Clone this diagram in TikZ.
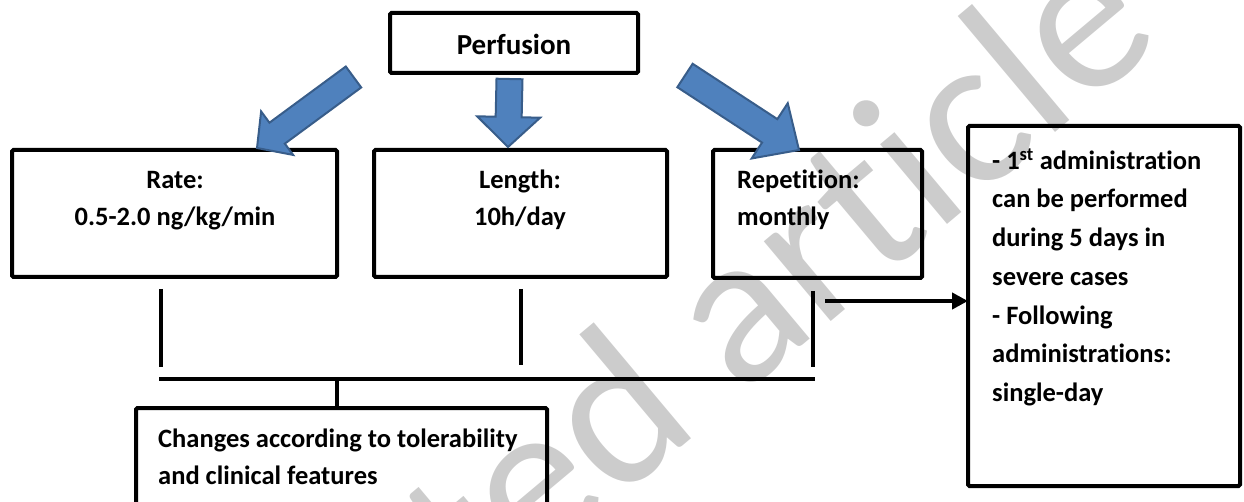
\documentclass[tikz,border=0pt]{standalone}
\usepackage{fontspec}
\setmainfont{Carlito}[Ligatures=NoCommon]
\usetikzlibrary{calc,arrows.meta}
\definecolor{arrfill}{RGB}{79,129,189}
\definecolor{arrdraw}{RGB}{56,93,138}
\definecolor{wm}{RGB}{204,204,204}
\newcommand\firstline{\rule{0pt}{22pt}}
\newcommand\fatarrow[6]{%
  \coordinate (#1h) at ($(#3)!#6!(#2)$);
  \draw[fat] ($(#2)!#4!90:(#3)$) -- ($(#1h)!#4!90:(#3)$) -- ($(#1h)!#5!90:(#3)$) -- (#3)
    -- ($(#1h)!#5!-90:(#3)$) -- ($(#1h)!#4!-90:(#3)$) -- ($(#2)!#4!-90:(#3)$) -- cycle;
}
\begin{document}
\begin{tikzpicture}[x=1pt,y=-1pt,
  box/.style={draw=black, line width=4pt, rounded corners=1.5pt, outer sep=0pt, inner sep=0pt, anchor=north west},
  txt/.style={font=\bfseries\fontsize{26.5}{37}\selectfont, inner sep=0pt},
  conn/.style={line width=4pt},
  fat/.style={fill=arrfill, draw=arrdraw, line width=2pt, line join=miter},
]
\useasboundingbox (0,0) rectangle (1244,502);
\clip (0,0) rectangle (1244,502);
% watermark
\node[font=\fontsize{218}{218}\selectfont, text=wm, rotate=40, anchor=base west, inner sep=0pt] (wmark) at (70,960) {Accepted article};
% boxes
\node[box, minimum width=248pt, minimum height=60pt] (perf) at (390,13) {};
\node[box, minimum width=325pt, minimum height=127pt] (rate) at (12,150) {};
\node[box, minimum width=293pt, minimum height=127pt] (length) at (374,150) {};
\node[box, minimum width=209pt, minimum height=128pt] (rep) at (713,150) {};
\node[box, minimum width=272pt, minimum height=360pt] (rightbox) at (968,126) {};
\node[box, minimum width=411pt, minimum height=130pt] (changes) at (136,408) {};
% texts
\node[txt, font=\bfseries\fontsize{29}{35}\selectfont, anchor=base] (perft) at (514,55) {Perfusion};
\node[txt, align=center, anchor=north] (ratet) at (175,166) {\firstline Rate:\\0.5-2.0 ng/kg/min};
\node[txt, align=center, anchor=north] (lengtht) at (520,166) {\firstline Length:\\10h/day};
\node[txt, align=left, anchor=north west] (rept) at (737,166) {\firstline Repetition:\\monthly};
\node[txt, font=\bfseries\fontsize{26.5}{38.7}\selectfont, align=left, anchor=north west] (rightt) at (992,147)
  {\firstline - 1\textsuperscript{st} administration\\can be performed\\during 5 days in\\severe cases\\- Following\\administrations:\\single-day};
\node[txt, align=left, anchor=north west] (changest) at (158,425) {\firstline Changes according to tolerability\\and clinical features};
% connectors
\coordinate (l1t) at (161,289); \coordinate (l1b) at (161,367);
\coordinate (l2t) at (521,289); \coordinate (l2b) at (521,365);
\coordinate (l3t) at (813,291); \coordinate (l3b) at (813,367);
\coordinate (barL) at (159,379); \coordinate (barR) at (815,379);
\coordinate (stem) at (337,379);
\coordinate (arrS) at (825,301);
\draw[conn] (l1t) -- (l1b);
\draw[conn] (l2t) -- (l2b);
\draw[conn] (l3t) -- (l3b);
\draw[conn] (barL) -- (barR);
\draw[conn] (stem) -- (stem |- changes.north);
\draw[conn, -{Triangle[length=16pt,width=16pt]}] (arrS) -- (arrS -| rightbox.west);
% blue block arrows
\coordinate (a1t) at (353.5,77); \coordinate (a1p) at (257,148);
\coordinate (a2t) at (509.5,79); \coordinate (a2p) at (508,147);
\coordinate (a3t) at (685,75.5); \coordinate (a3p) at (799,150);
\fatarrow{a1}{a1t}{a1p}{13pt}{27pt}{25pt}
\fatarrow{a2}{a2t}{a2p}{13pt}{31.5pt}{30pt}
\fatarrow{a3}{a3t}{a3p}{14pt}{33pt}{35pt}
\end{tikzpicture}
\end{document}
